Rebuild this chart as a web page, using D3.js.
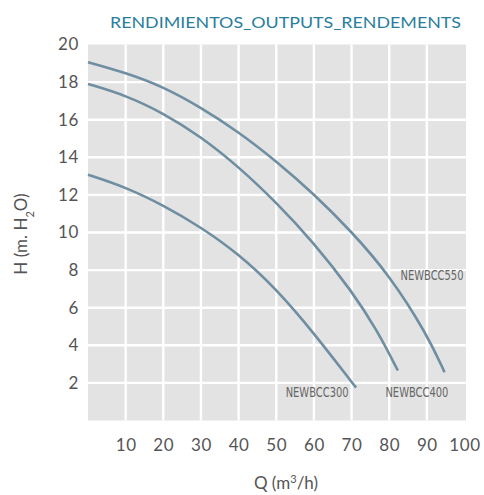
<!DOCTYPE html>
<html>
<head>
<meta charset="utf-8">
<script src="https://cdn.jsdelivr.net/npm/d3@7"></script>
<style>
  html, body { margin: 0; padding: 0; background: #fff; }
  svg { display: block; }
</style>
</head>
<body>
<div class="visHolder"></div>
<script>
// chart data
var xTicks = [10, 20, 30, 40, 50, 60, 70, 80, 90, 100];
var yTicks = [2, 4, 6, 8, 10, 12, 14, 16, 18, 20];

var q300 = [0, 10, 20, 30, 40, 50, 60, 70, 71.2];
var h300 = [13.07, 12.41, 11.45, 10.28, 8.86, 7.0, 4.65, 2.05, 1.75];

var q400 = [0, 10, 20, 30, 40, 50, 60, 70, 76.8, 82.3];
var h400 = [17.9, 17.3, 16.35, 15.1, 13.5, 11.6, 9.45, 6.9, 4.8, 2.66];

var q550 = [0, 10, 20, 30, 40, 50, 60, 70, 80, 90, 94.7];
var h550 = [19.06, 18.5, 17.75, 16.65, 15.35, 13.8, 12.05, 10.05, 7.75, 4.6, 2.57];

var seriesNames = ["NEWBCC300", "NEWBCC400", "NEWBCC550"];

var width = 484, height = 495;

var svg = d3.select(".visHolder")
    .append("svg")
    .attr("width", width)
    .attr("height", height);

var x = d3.scaleLinear().domain([0, 100]).range([88, 464.5]);
var y = d3.scaleLinear().domain([0, 20]).range([420.5, 44.5]);

var font = "Lato, 'Open Sans', sans-serif";

// grey plot background
svg.append("rect")
    .attr("x", x(0))
    .attr("y", y(20))
    .attr("width", x(100) - x(0) + 1.5)
    .attr("height", y(0) - y(20))
    .style("fill", "#e3e3e3");

// white grid lines
svg.selectAll(".vgrid")
    .data(xTicks.slice(0, -1))
    .enter()
    .append("line")
    .attr("class", "vgrid")
    .attr("x1", (d) => x(d))
    .attr("x2", (d) => x(d))
    .attr("y1", y(20))
    .attr("y2", y(0))
    .style("stroke", "#fff")
    .style("stroke-width", 2.4);

svg.selectAll(".hgrid")
    .data(yTicks.slice(0, -1))
    .enter()
    .append("line")
    .attr("class", "hgrid")
    .attr("x1", x(0))
    .attr("x2", x(100) + 1.5)
    .attr("y1", (d) => y(d))
    .attr("y2", (d) => y(d))
    .style("stroke", "#fff")
    .style("stroke-width", 2.4);

// axes (labels only)
var xAxis = svg.append("g")
    .attr("transform", `translate(0, ${y(0)})`)
    .call(d3.axisBottom(x).tickValues(xTicks).tickSize(0).tickPadding(18));
xAxis.select(".domain").remove();
xAxis.selectAll("text")
    .style("font-family", font)
    .style("font-size", "17px")
    .style("letter-spacing", "0.6px")
    .style("fill", "#555");

var yAxis = svg.append("g")
    .attr("transform", `translate(${x(0)}, 0)`)
    .call(d3.axisLeft(y).tickValues(yTicks).tickSize(0).tickPadding(9));
yAxis.select(".domain").remove();
yAxis.selectAll("text")
    .style("font-family", font)
    .style("font-size", "17px")
    .style("letter-spacing", "0.6px")
    .style("fill", "#555");

// curves
var line = d3.line()
    .x((d) => x(d[0]))
    .y((d) => y(d[1]))
    .curve(d3.curveBasis);

var series = [d3.zip(q300, h300), d3.zip(q400, h400), d3.zip(q550, h550)];

svg.selectAll(".curve")
    .data(series)
    .enter()
    .append("path")
    .attr("class", "curve")
    .attr("d", line)
    .style("fill", "none")
    .style("stroke", "#6f8ea2")
    .style("stroke-width", 2.6);

// curve labels
var labelPos = [[52.5, 1.25], [79, 1.25], [83, 7.45]];
svg.selectAll(".curve-label")
    .data(seriesNames)
    .enter()
    .append("text")
    .attr("class", "curve-label")
    .attr("x", (d, i) => x(labelPos[i][0]))
    .attr("y", (d, i) => y(labelPos[i][1]))
    .attr("textLength", 63)
    .attr("lengthAdjust", "spacingAndGlyphs")
    .style("font-family", "'Liberation Sans Narrow', 'DejaVu Sans Condensed', sans-serif")
    .style("font-size", "14px")
    .style("fill", "#666")
    .text((d) => d);

// title
svg.append("text")
    .attr("x", 110)
    .attr("y", 28)
    .attr("textLength", 351)
    .attr("lengthAdjust", "spacingAndGlyphs")
    .style("font-family", font)
    .style("font-size", "16px")
    .style("fill", "#2a7e9d")
    .text("RENDIMIENTOS_OUTPUTS_RENDEMENTS");

// axis titles
var yTitle = svg.append("text")
    .attr("transform", "translate(27, 234) rotate(-90)")
    .attr("text-anchor", "middle")
    .style("font-family", font)
    .style("font-size", "17px")
    .style("fill", "#555");
yTitle.append("tspan").text("H (m. H");
yTitle.append("tspan").attr("baseline-shift", "sub").style("font-size", "11px").text("2");
yTitle.append("tspan").text("O)");

var xTitle = svg.append("text")
    .attr("x", 286)
    .attr("y", 489)
    .attr("text-anchor", "middle")
    .style("font-family", font)
    .style("font-size", "17px")
    .style("fill", "#555");
xTitle.append("tspan").text("Q (m");
xTitle.append("tspan").attr("baseline-shift", "super").style("font-size", "11px").text("3");
xTitle.append("tspan").text("/h)");
</script>
</body>
</html>
